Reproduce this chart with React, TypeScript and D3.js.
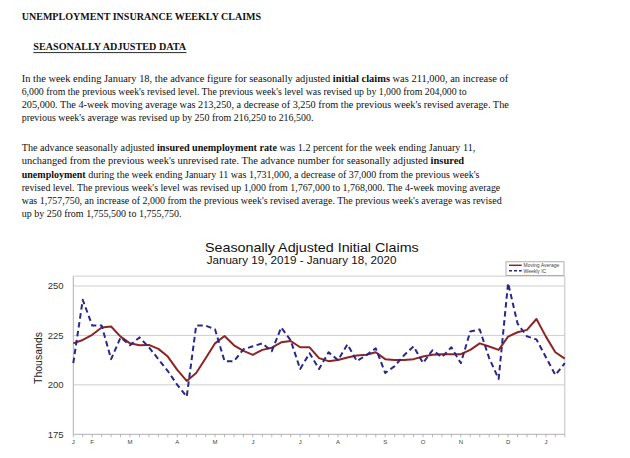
import React, { useLayoutEffect, useRef, useState } from "react";
import * as d3 from "d3";

// ---- chart data (thousands) ----
const weeklyIC = [
  211, 243, 230, 230, 213, 224, 220, 224, 219, 213, 207, 200, 194,
  230, 230, 228, 212, 212, 218, 219.5, 221, 217, 229, 222.5, 208, 216,
  208, 216.5, 212.5, 220.5, 212, 215, 218.5, 206, 209.5, 215, 219.5, 211,
  217.5, 214, 219, 211, 227, 228, 213.5, 203, 251.5, 231, 224.5, 223, 214,
  205, 211,
];
const movingAvg = [
  221, 222.7, 225.3, 229, 229.5, 224.4, 221, 220, 220.2, 218.2, 214.3, 207.6, 202,
  206, 213.5, 221, 224.7, 220, 217.2, 215.2, 217.7, 218.8, 221.5, 222.2, 219, 219,
  213.5, 212, 212.6, 213.8, 214.8, 215.2, 216.5, 213, 212.6, 212.6, 213, 214.3,
  215.2, 215.5, 215.5, 215.5, 217.7, 221, 219.4, 217.7, 224.4, 226.6, 227.8, 233.3,
  224.4, 216.5, 213.25,
];
const monthLabels = ["J", "F", "M", "A", "M", "J", "J", "A", "S", "O", "N", "D", "J"];
const monthWeekIndex = [0, 2, 6, 11, 15, 19, 24, 28, 33, 37, 41, 46, 50];
const yTicks = [175, 200, 225, 250];
const gridValues = [200, 225, 250];
const seriesNames = ["Moving Average", "Weekly IC"];

// ---- document text ----
type Run = { t: string; b?: boolean };
const heading = "UNEMPLOYMENT INSURANCE WEEKLY CLAIMS";
const subheading = "SEASONALLY ADJUSTED DATA";
const para1: Run[][] = [
  [
    { t: "In the week ending January 18, the advance figure for seasonally adjusted " },
    { t: "initial claims", b: true },
    { t: " was 211,000, an increase of" },
  ],
  [{ t: "6,000 from the previous week's revised level. The previous week's level was revised up by 1,000 from 204,000 to" }],
  [{ t: "205,000. The 4-week moving average was 213,250, a decrease of 3,250 from the previous week's revised average. The" }],
  [{ t: "previous week's average was revised up by 250 from 216,250 to 216,500." }],
];
const para2: Run[][] = [
  [
    { t: "The advance seasonally adjusted " },
    { t: "insured unemployment rate", b: true },
    { t: " was 1.2 percent for the week ending January 11," },
  ],
  [
    { t: "unchanged from the previous week's unrevised rate. The advance number for seasonally adjusted " },
    { t: "insured", b: true },
  ],
  [
    { t: "unemployment", b: true },
    { t: " during the week ending January 11 was 1,731,000, a decrease of 37,000 from the previous week's" },
  ],
  [{ t: "revised level. The previous week's level was revised up 1,000 from 1,767,000 to 1,768,000. The 4-week moving average" }],
  [{ t: "was 1,757,750, an increase of 2,000 from the previous week's revised average. The previous week's average was revised" }],
  [{ t: "up by 250 from 1,755,500 to 1,755,750." }],
];
const para1Widths = [487, 446, 488, 292];
const para2Widths = [454, 443, 458, 479, 480, 160];

const W = 630;
const H = 458;
const serif = "'Liberation Serif', 'Times New Roman', serif";
const sans = "'Liberation Sans', Arial, sans-serif";

const RED = "#8e2424";
const BLUE = "#28288c";

// text fitted horizontally to a target width by a horizontal scale
function FitText({
  x,
  y,
  width,
  children,
  ...rest
}: {
  x: number;
  y: number;
  width: number;
  children: React.ReactNode;
  [k: string]: any;
}) {
  const ref = useRef<SVGTextElement>(null);
  const [s, setS] = useState(1);
  useLayoutEffect(() => {
    if (ref.current) {
      const len = ref.current.getComputedTextLength();
      if (len > 0) setS(width / len);
    }
  }, [width]);
  return (
    <g transform={`translate(${x},${y}) scale(${s},1)`}>
      <text ref={ref} x={0} y={0} {...rest}>
        {children}
      </text>
    </g>
  );
}

function Para({ lines, widths, y0, step }: { lines: Run[][]; widths: number[]; y0: number; step: number }) {
  return (
    <g>
      {lines.map((runs, i) => (
        <FitText key={i} x={21.7} y={y0 + i * step} width={widths[i]} fontFamily={serif} fontSize={11} fill="#111">
          {runs.map((r, j) => (
            <tspan key={j} fontWeight={r.b ? "bold" : "normal"}>
              {r.t}
            </tspan>
          ))}
        </FitText>
      ))}
    </g>
  );
}

export default function App() {
  const x = d3.scaleLinear().domain([0, 52]).range([73.3, 564.8]);
  const y = d3.scaleLinear().domain([175, 255]).range([434.3, 276.1]);
  const idx = d3.range(weeklyIC.length);

  const line = d3
    .line<number>()
    .x((_, i) => x(i))
    .y((d) => y(d));

  const [x0, x1] = x.range();
  const yTop = y(255);
  const yBot = y(175);

  return (
    <div style={{ position: "absolute", left: 0, top: 0, width: W, height: H, background: "#fff" }}>
      <svg width={W} height={H} viewBox={`0 0 ${W} ${H}`} style={{ display: "block" }}>
        <rect width={W} height={H} fill="#fff" />

        {/* document text */}
        <FitText x={21.7} y={20} width={240} fontFamily={serif} fontWeight="bold" fontSize={11} fill="#111">
          {heading}
        </FitText>
        <FitText x={33.3} y={50} width={153} fontFamily={serif} fontWeight="bold" fontSize={11} fill="#111">
          {subheading}
        </FitText>
        <line x1={33.3} x2={186.5} y1={52.6} y2={52.6} stroke="#111" strokeWidth={0.9} />
        <Para lines={para1} widths={para1Widths} y0={81.5} step={13.3} />
        <Para lines={para2} widths={para2Widths} y0={151.2} step={13.2} />

        {/* chart titles */}
        <FitText x={205} y={252.3} width={214} fontFamily={sans} fontSize={12} fill="#111">
          Seasonally Adjusted Initial Claims
        </FitText>
        <FitText x={206.7} y={264} width={190} fontFamily={sans} fontSize={10} fill="#111">
          January 19, 2019 - January 18, 2020
        </FitText>

        {/* gridlines */}
        {gridValues.map((v) => (
          <line key={v} x1={x0} x2={x1} y1={y(v)} y2={y(v)} stroke="#cfcfcf" strokeWidth={1} />
        ))}
        {/* frame */}
        <line x1={x0} x2={x1} y1={yTop} y2={yTop} stroke="#cfcfcf" strokeWidth={1} />
        <line x1={x1} x2={x1} y1={yTop} y2={yBot} stroke="#c4c4c4" strokeWidth={1} />
        <line x1={x0} x2={x0} y1={yTop} y2={yBot} stroke="#b0b0b0" strokeWidth={1} />
        <line x1={x0} x2={x1} y1={yBot} y2={yBot} stroke="#b0b0b0" strokeWidth={1} />
        {/* weekly ticks */}
        {idx.map((i) => (
          <line key={i} x1={x(i)} x2={x(i)} y1={yBot} y2={yBot + 3} stroke="#a8a8a8" strokeWidth={0.8} />
        ))}

        {/* y tick labels */}
        {yTicks.map((v) => (
          <text key={v} x={63.5} y={y(v)} dy="0.35em" textAnchor="end" fontFamily={sans} fontSize={9.5} fill="#333">
            {v}
          </text>
        ))}
        <text
          transform={`translate(41.5, 358) rotate(-90)`}
          textAnchor="middle"
          fontFamily={sans}
          fontSize={10.5}
          fill="#222"
        >
          Thousands
        </text>

        {/* month labels */}
        {monthLabels.map((m, k) => (
          <text key={k} x={x(monthWeekIndex[k])} y={444} textAnchor="middle" fontFamily={sans} fontSize={6} fill="#444">
            {m}
          </text>
        ))}

        {/* series */}
        <path d={line(movingAvg) || ""} fill="none" stroke={RED} strokeWidth={2} strokeLinejoin="round" />
        <path d={line(weeklyIC) || ""} fill="none" stroke={BLUE} strokeWidth={2} strokeDasharray="5.5,3.5" strokeLinejoin="round" />

        {/* legend */}
        <rect x={506} y={261.8} width={58} height={13.6} fill="#fff" stroke="#9a9a9a" strokeWidth={0.8} />
        <line x1={509} x2={521.7} y1={265.3} y2={265.3} stroke={RED} strokeWidth={1.5} />
        <text x={523.5} y={267} fontFamily={sans} fontSize={5} fill="#444">
          {seriesNames[0]}
        </text>
        <line x1={509} x2={521.7} y1={270.8} y2={270.8} stroke={BLUE} strokeWidth={1.5} strokeDasharray="3,2" />
        <text x={523.5} y={272.6} fontFamily={sans} fontSize={5} fill="#444">
          {seriesNames[1]}
        </text>
      </svg>
    </div>
  );
}
